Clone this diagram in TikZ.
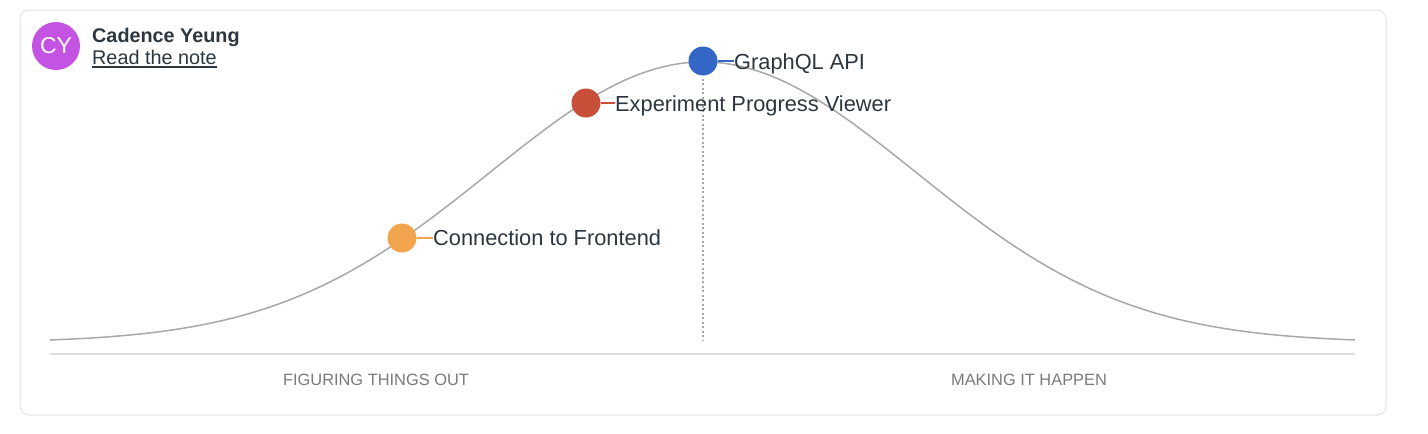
\documentclass[tikz,border=0pt]{standalone}
\usepackage{fontspec}
\setmainfont{Liberation Sans}
\definecolor{cardline}{HTML}{E3E3E3}
\definecolor{axisline}{HTML}{DDDDDD}
\definecolor{curvegrey}{HTML}{A8A8A8}
\definecolor{txt}{HTML}{2B3640}
\definecolor{lblgrey}{HTML}{7A7A7A}
\definecolor{avatar}{HTML}{C452E2}
\definecolor{dotorange}{HTML}{F2A54E}
\definecolor{dotred}{HTML}{C8503A}
\definecolor{dotblue}{HTML}{3366C6}
\tikzset{
  dotnode/.style={circle, minimum size=29pt, inner sep=0pt, fill=#1},
  itemlabel/.style={anchor=base west, inner sep=0pt, text=txt, font=\fontsize{21.8}{24}\selectfont},
  phaselabel/.style={anchor=base, inner sep=0pt, text=lblgrey, font=\fontsize{16.4}{19}\selectfont},
  tick/.style={line width=1.3pt, draw=#1}
}
\begin{document}
\begin{tikzpicture}[x=1pt,y=-1pt]
\useasboundingbox (0,0) rectangle (1428,434);
% card
\draw[cardline, line width=1pt, rounded corners=9pt] (20,10) rectangle (1386,415);
% avatar
\node[circle, fill=avatar, minimum size=48pt, inner sep=0pt, text=white, font=\fontsize{23}{26}\selectfont] (av) at (56,46) {CY};
\node[anchor=base west, inner sep=0pt, text=txt, font=\bfseries\fontsize{19.8}{22}\selectfont] (name) at (92,42) {Cadence Yeung};
\node[anchor=base west, inner sep=0pt, text=txt, font=\fontsize{19.8}{22}\selectfont] (note) at (92,64) {Read the note};
\draw[txt, line width=1.1pt] ([yshift=-3pt]note.base west) -- ([yshift=-3pt]note.base east);
% axis
\coordinate (axl) at (50,354);
\coordinate (axr) at (1355,354);
\draw[axisline, line width=1.3pt] (axl) -- (axr);
% curve
\draw[curvegrey, line width=1.5pt] plot[domain=50:1355, samples=240, smooth] (\x, {342.5-280.5*exp(-0.5*((\x-703)/213)^2)});
% dotted peak line
\coordinate (peakbase) at (703,340);
% dots
\node[dotnode=dotorange] (d1) at (402,238) {};
\node[dotnode=dotred] (d2) at (586,103) {};
\node[dotnode=dotblue] (d3) at (703,61) {};
\draw[curvegrey, line width=1.3pt, dash pattern=on 2pt off 2.5pt] ([yshift=-3pt]d3.south) -- (peakbase);
% labels
\node[itemlabel] (l1) at (433,245.5) {Connection to Frontend};
\node[itemlabel] (l2) at (615,111.5) {Experiment Progress Viewer};
\node[itemlabel] (l3) at (734,69.5) {GraphQL API};
\draw[tick=dotorange] (d1.east) -- (d1.east -| l1.west);
\draw[tick=dotred] (d2.east) -- (d2.east -| l2.west);
\draw[tick=dotblue] (d3.east) -- (d3.east -| l3.west);
% phase labels
\node[phaselabel] (p1) at (376,385) {FIGURING THINGS OUT};
\node[phaselabel] (p2) at (1029,385) {MAKING IT HAPPEN};
\end{tikzpicture}
\end{document}
